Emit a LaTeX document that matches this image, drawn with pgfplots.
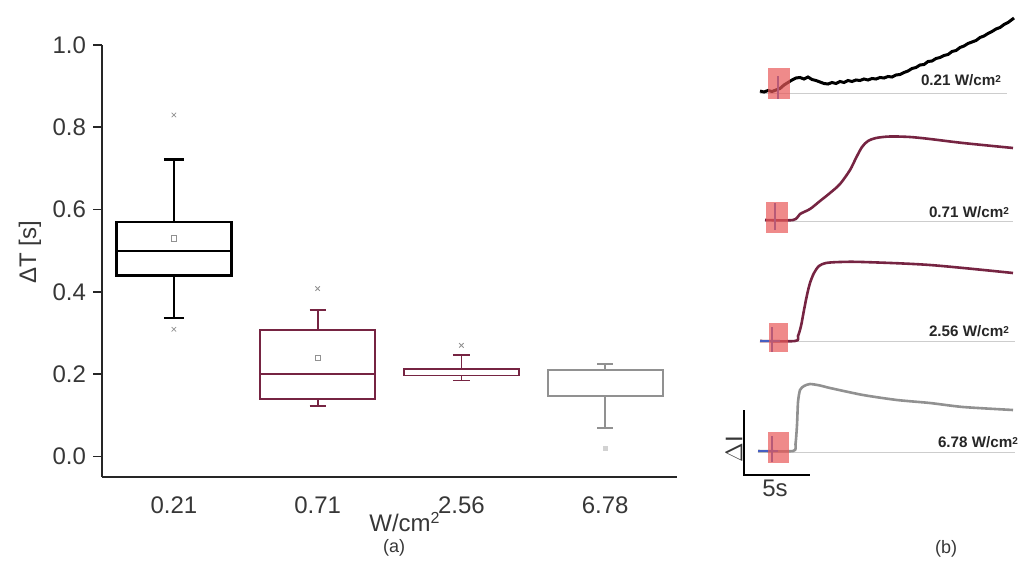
\documentclass[border=0pt]{standalone}
\usepackage{pgfplots}
\pgfplotsset{compat=1.18}
\usepgfplotslibrary{statistics}
\usepackage{fontspec}
\setmainfont{Liberation Sans}
\definecolor{maroon}{RGB}{118,36,66}
\definecolor{boxgray}{RGB}{145,145,145}
\definecolor{stimred}{RGB}{232,88,88}
\definecolor{stimblue}{RGB}{70,95,195}
\definecolor{basegray}{RGB}{205,205,205}
\definecolor{ticktext}{RGB}{55,55,55}
\begin{document}
\begin{tikzpicture}[x=1pt,y=1pt]
\path[use as bounding box] (0,0) rectangle (513.5,282);
% ---------------- panel (a) ----------------
\begin{axis}[
  at={(51pt,43.5pt)}, anchor=south west,
  scale only axis, width=287.5pt, height=216pt,
  xmin=-0.5, xmax=3.5, ymin=-0.05, ymax=1.0,
  boxplot/draw direction=y,
  axis x line*=bottom, axis y line*=left,
  axis line style={line width=0.9pt, black!85},
  xtick={0,1,2,3}, xticklabels={0.21,0.71,2.56,6.78},
  xtick style={draw=none},
  ytick={0,0.2,0.4,0.6,0.8,1.0},
  ytick style={line width=0.8pt, black!85},
  tick align=outside, major tick length=4.5pt,
  yticklabel style={/pgf/number format/fixed, /pgf/number format/fixed zerofill, /pgf/number format/precision=1},
  /pgf/number format/assume math mode=true,
  tick label style={font=\fontsize{12}{14}\selectfont, text=ticktext},
  xticklabel style={yshift=-2pt},
  clip=false,
]
% box 1 (0.21 W/cm^2)
\addplot[black, line width=1.15pt, boxplot prepared={draw position=0,
  lower whisker=0.337, lower quartile=0.44, median=0.50,
  upper quartile=0.57, upper whisker=0.722, box extend=0.8, whisker extend=0.14}] coordinates {};
% box 2 (0.71 W/cm^2)
\addplot[maroon, line width=1.1pt, boxplot prepared={draw position=1,
  lower whisker=0.122, lower quartile=0.14, median=0.20,
  upper quartile=0.307, upper whisker=0.355, box extend=0.8, whisker extend=0.11}] coordinates {};
% box 3 (2.56 W/cm^2)
\addplot[maroon, line width=0.8pt, boxplot prepared={draw position=2,
  lower whisker=0.185, lower quartile=0.197, median=0.212,
  upper quartile=0.212, upper whisker=0.246, box extend=0.8, whisker extend=0.12}] coordinates {};
% box 4 (6.78 W/cm^2)
\addplot[boxgray, line width=1pt, boxplot prepared={draw position=3,
  lower whisker=0.068, lower quartile=0.148, median=0.148,
  upper quartile=0.209, upper whisker=0.224, box extend=0.8, whisker extend=0.11}] coordinates {};
% outliers
\addplot[only marks, mark=x, mark size=1.6pt, boxgray] coordinates {(0,0.83) (0,0.309) (1,0.408) (2,0.27)};
\addplot[only marks, mark=square*, mark size=0.9pt, gray!35] coordinates {(3,0.019)};
% means
\addplot[only marks, mark=square, mark size=1.3pt, boxgray, line width=0.4pt] coordinates {(0,0.53) (1,0.24)};
\end{axis}
% ---------------- overlay / panel (b), pixel coordinates ----------------
\begin{axis}[
  at={(0pt,0pt)}, anchor=south west,
  scale only axis, width=513.5pt, height=282pt,
  xmin=0, xmax=1027, ymin=-564, ymax=0,
  hide axis, clip=false,
]
% baselines
\addplot[basegray, line width=0.5pt] coordinates {(760,-93) (1007,-93)};
\addplot[basegray, line width=0.5pt] coordinates {(765,-221) (1013,-221)};
\addplot[basegray, line width=0.5pt] coordinates {(760,-341) (1015,-341)};
\addplot[basegray, line width=0.5pt] coordinates {(758,-452) (1015,-452)};
% trace 1: 0.21 W/cm^2
\addplot[black, line width=1.5pt] coordinates {
(760,-91) (764,-92) (768,-90.5) (772,-91.5) (776,-90) (780,-88.5) (784,-85) (788,-82.5)
(792,-80) (796,-78) (800,-77.5) (804,-79) (808,-77) (812,-79.5) (816,-80.5) (820,-82)
(824,-83.5) (828,-84) (832,-82.5) (836,-83.5) (840,-81.5) (844,-82.5) (848,-80.5) (852,-81.5)
(856,-80) (860,-80.5) (864,-79) (868,-80) (872,-78.5) (876,-79) (880,-77.5) (884,-78)
(888,-76.5) (892,-77) (896,-75) (900,-74.5) (904,-72.5) (908,-71) (912,-68.5) (916,-67.5)
(920,-65) (924,-64.5) (928,-61.5) (932,-61) (936,-58.5) (940,-57.5) (944,-55.5) (948,-54.5)
(952,-51.5) (956,-50.5) (960,-47.5) (964,-46) (968,-43.5) (972,-42) (976,-40.5) (980,-37.5)
(984,-36) (988,-33.5) (992,-31.5) (996,-29) (1000,-27.5) (1004,-24.5) (1008,-22.5) (1012,-19.5) (1014,-18)};
% trace 2: 0.71 W/cm^2
\addplot[maroon, line width=1.3pt, smooth, tension=0.5] coordinates {
(765,-220) (793,-220) (800,-214) (810,-209) (820,-201) (830,-193) (840,-184) (850,-170)
(856,-158) (862,-147) (868,-141) (876,-138) (890,-136.5) (910,-137) (930,-139) (963,-143) (1013,-148)};
% trace 3: 2.56 W/cm^2
\addplot[maroon, line width=1.3pt, smooth, tension=0.5] coordinates {
(760,-341) (795,-341) (798,-336) (801,-326) (804,-310) (807,-295) (810,-283) (814,-273)
(819,-266) (826,-263) (840,-262) (863,-262) (930,-265) (1013,-273)};
% trace 4: 6.78 W/cm^2
\addplot[boxgray, line width=1.3pt, smooth, tension=0.4] coordinates {
(758,-451) (793,-451) (795.5,-444) (797,-425) (798,-402) (800,-390) (804,-386) (810,-384)
(820,-385.5) (830,-388) (863,-395) (897,-400) (930,-403) (963,-407) (1013,-410)};
% stimulus markers
\addplot[stimblue, line width=1pt] coordinates {(778,-76) (778,-99)};
\addplot[stimblue, line width=1pt] coordinates {(775,-203) (775,-230)};
\addplot[stimblue, line width=1pt] coordinates {(772,-327) (772,-352)};
\addplot[stimblue, line width=1pt] coordinates {(772,-436) (772,-462)};
\addplot[stimblue, line width=0.9pt] coordinates {(760,-341) (780,-341)};
\addplot[stimblue, line width=0.9pt] coordinates {(758,-451) (778,-451)};
\addplot[draw=none, fill=stimred, fill opacity=0.7] coordinates {(768,-68) (790,-68) (790,-99) (768,-99)} --cycle;
\addplot[draw=none, fill=stimred, fill opacity=0.7] coordinates {(766,-202) (788,-202) (788,-233) (766,-233)} --cycle;
\addplot[draw=none, fill=stimred, fill opacity=0.7] coordinates {(769,-323) (788,-323) (788,-352) (769,-352)} --cycle;
\addplot[draw=none, fill=stimred, fill opacity=0.7] coordinates {(768,-432) (789,-432) (789,-463) (768,-463)} --cycle;
% scale bar
\addplot[black, line width=1.2pt] coordinates {(744,-410) (744,-475) (810,-475)};
% trace labels
\node[anchor=east, font=\bfseries\fontsize{7.6}{9}\selectfont, text=black!85] at (axis cs:1008,-80) {0.21 W/cm{\fontsize{5}{6}\selectfont\raisebox{0.6ex}{2}}};
\node[anchor=east, font=\bfseries\fontsize{7.6}{9}\selectfont, text=black!85] at (axis cs:1016,-212) {0.71 W/cm{\fontsize{5}{6}\selectfont\raisebox{0.6ex}{2}}};
\node[anchor=east, font=\bfseries\fontsize{7.6}{9}\selectfont, text=black!85] at (axis cs:1016,-331) {2.56 W/cm{\fontsize{5}{6}\selectfont\raisebox{0.6ex}{2}}};
\node[anchor=east, font=\bfseries\fontsize{7.6}{9}\selectfont, text=black!85] at (axis cs:1025,-442) {6.78 W/cm{\fontsize{5}{6}\selectfont\raisebox{0.6ex}{2}}};
% other texts
\node[font=\fontsize{12}{14}\selectfont, text=ticktext] at (axis cs:775,-488) {5s};
\node[font=\fontsize{12}{14}\selectfont, text=ticktext, rotate=90] at (axis cs:734,-449) {$\Delta$I};
\node[font=\fontsize{12}{14}\selectfont, text=ticktext, rotate=90] at (axis cs:30,-252) {ΔT [s]};
\node[font=\fontsize{12}{14}\selectfont, text=ticktext] at (axis cs:405,-522) {W/cm\textsuperscript{2}};
\node[font=\fontsize{9}{10}\selectfont, text=ticktext] at (axis cs:394,-548) {(a)};
\node[font=\fontsize{9}{10}\selectfont, text=ticktext] at (axis cs:946,-549) {(b)};
\end{axis}
\end{tikzpicture}
\end{document}
